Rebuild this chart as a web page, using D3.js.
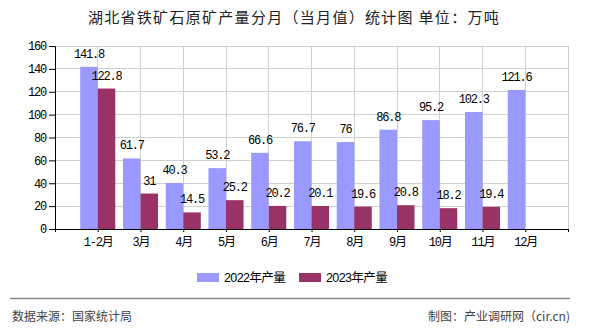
<!DOCTYPE html>
<html><head><meta charset="utf-8">
<script src="https://cdn.jsdelivr.net/npm/d3@7"></script>
<style>
html,body{margin:0;padding:0;background:#fff;}
svg{display:block;}
</style>
</head><body>
<svg id="chart" width="590" height="330"></svg>
<script>
const categories = ["1-2月","3月","4月","5月","6月","7月","8月","9月","10月","11月","12月"];
const values2022 = [141.8,61.7,40.3,53.2,66.6,76.7,76,86.8,95.2,102.3,121.6];
const values2023 = [122.8,31,14.5,25.2,20.2,20.1,19.6,20.8,18.2,19.4,null];
const seriesNames = ["2022年产量","2023年产量"];
const seriesColors = ["#9999FF","#993366"];
const yTicks = [0,20,40,60,80,100,120,140,160];
const titleText = "湖北省铁矿石原矿产量分月（当月值）统计图 单位：万吨";
const sourceText = "数据来源：国家统计局";
const creditText = "制图：产业调研网（cir.cn)";

(function(){
const svg = d3.select("#chart");
const pL = 55, pR = 568, pT = 46, pB = 229;
const monoFont = "'Liberation Mono','DejaVu Sans Mono','Noto Sans CJK SC',monospace";

const x = d3.scaleLinear().domain([0, categories.length + 1]).range([pL, pR]);
const y = d3.scaleLinear().domain([0,160]).range([pB, pT]);
const slot = x(1) - x(0);
const barW = slot * 0.41;

// horizontal grid
svg.append("g").selectAll("line").data(yTicks.filter(d => d > 0)).join("line")
  .attr("x1", pL).attr("x2", pR)
  .attr("y1", d => y(d)).attr("y2", d => y(d))
  .attr("stroke", "#d0d0d0").attr("stroke-width", 1).attr("shape-rendering","crispEdges");
// vertical grid
const vPos = categories.map((c,i) => i + 1).concat([categories.length + 1]);
svg.append("g").selectAll("line").data(vPos).join("line")
  .attr("x1", d => x(d)).attr("x2", d => x(d))
  .attr("y1", pT).attr("y2", pB)
  .attr("stroke", "#d0d0d0").attr("stroke-width", 1).attr("shape-rendering","crispEdges");

// bars
const series = [values2022, values2023];
series.forEach((vals, s) => {
  const g = svg.append("g");
  const data = vals.map((v,i) => ({v, i})).filter(d => d.v != null);
  g.selectAll("rect").data(data).join("rect")
    .attr("x", d => s === 0 ? x(d.i + 1) - barW : x(d.i + 1))
    .attr("y", d => y(d.v))
    .attr("width", barW)
    .attr("height", d => y(0) - y(d.v))
    .attr("fill", seriesColors[s]);
  g.selectAll("text").data(data).join("text")
    .attr("x", d => (s === 0 ? x(d.i + 1) - barW/2 : x(d.i + 1) + barW/2))
    .attr("y", d => y(d.v) - 9)
    .attr("text-anchor", "middle")
    .attr("font-family", monoFont)
    .attr("font-size", 12)
    .attr("letter-spacing", -1.2)
    .attr("fill", "#000")
    .text(d => d.v);
});

// y axis
const yAxis = d3.axisLeft(y).tickValues(yTicks).tickSize(6).tickPadding(3);
const ya = svg.append("g").attr("transform", `translate(${pL},0)`).call(yAxis);
ya.select(".domain").attr("stroke","#000");
ya.selectAll(".tick line").attr("stroke","#000");
ya.selectAll("text").attr("font-family", monoFont).attr("font-size", 12).attr("letter-spacing", -1.2).attr("fill","#000");

// x axis
const xAxis = d3.axisBottom(x).tickValues([0].concat(vPos)).tickSize(3).tickPadding(5)
  .tickFormat(d => (d >= 1 && d <= categories.length) ? categories[d-1] : "");
const xa = svg.append("g").attr("transform", `translate(0,${pB})`).call(xAxis);
xa.select(".domain").attr("stroke","#000").attr("d", `M${pL},0.5H${pR}`);
xa.selectAll(".tick line").attr("stroke","#000");
xa.selectAll("text").attr("font-family", monoFont).attr("font-size", 12).attr("letter-spacing", -1.2).attr("fill","#000");

// title
svg.append("text").attr("x", 294).attr("y", 23).attr("text-anchor","middle")
  .attr("font-family","'Noto Sans CJK SC',sans-serif").attr("font-size",15)
  .attr("letter-spacing", 1.3)
  .attr("fill","#222").text(titleText);

// legend
const legX = [197, 299];
seriesNames.forEach((n, s) => {
  svg.append("rect").attr("x", legX[s]).attr("y", 273).attr("width", 22).attr("height", 9).attr("fill", seriesColors[s]);
  svg.append("text").attr("x", legX[s] + 27).attr("y", 282)
    .attr("font-family","'Liberation Sans Narrow','Liberation Sans','Noto Sans CJK SC',sans-serif")
    .attr("font-size", 12.5).attr("letter-spacing", -0.6).attr("fill","#000").text(n);
});

// separator
svg.append("line").attr("x1", 10).attr("x2", 570).attr("y1", 298.5).attr("y2", 298.5)
  .attr("stroke", "#888").attr("stroke-width", 1.5);

// footer
svg.append("text").attr("x", 12).attr("y", 321)
  .attr("font-family","'Noto Sans CJK SC',sans-serif").attr("font-size",12).attr("fill","#444").text(sourceText);
svg.append("text").attr("x", 570).attr("y", 321).attr("text-anchor","end")
  .attr("font-family","'Noto Sans CJK SC',sans-serif").attr("font-size",12).attr("fill","#444").text(creditText);
})();
</script>
</body></html>
